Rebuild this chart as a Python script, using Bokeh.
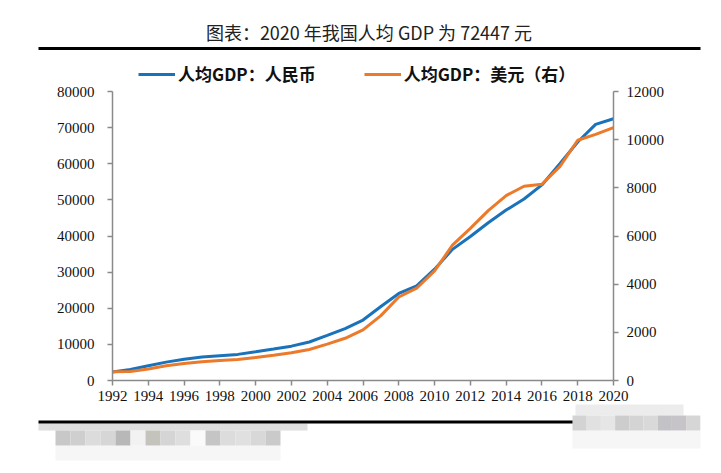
from bokeh.plotting import figure
from bokeh.models import (Range1d, LinearAxis, FixedTicker, Legend, LegendItem,
                          NumeralTickFormatter)
from bokeh.embed import file_html
from bokeh.resources import INLINE
from bokeh.core.properties import value

# ---------------- data ----------------
years = list(range(1992, 2021))
gdp_rmb = [2334, 3027, 4081, 5091, 5898, 6481, 6860, 7229, 7942, 8717,
           9506, 10666, 12487, 14368, 16738, 20494, 24100, 26180, 30808, 36302,
           39874, 43684, 47173, 50237, 54139, 60014, 66006, 70892, 72447]
gdp_usd = [366, 377, 474, 610, 709, 782, 829, 873, 959, 1053,
           1149, 1289, 1509, 1753, 2099, 2694, 3468, 3832, 4550, 5618,
           6317, 7051, 7679, 8067, 8148, 8879, 9977, 10217, 10500]
left_ticks = [0, 10000, 20000, 30000, 40000, 50000, 60000, 70000, 80000]
right_ticks = [0, 2000, 4000, 6000, 8000, 10000, 12000]
x_ticks = list(range(1992, 2021, 2))
title_text = "图表：2020 年我国人均 GDP 为 72447 元"
series_names = ["人均GDP：人民币", "人均GDP：美元（右）"]
series_colors = ["#1a72bb", "#ec7a2a"]

# decorative blurred blocks (shades)
left_shades = ["#c8c8c8", "#cfcfcf", "#dcdcdc", "#d6d6d6", "#b8b8b8", "#f2f2f2", "#c4c4bd",
               "#d5d5d5", "#dedede", "#fafafa", "#c5c5c5", "#dcdcdc", "#e0e0e0", "#d8d8d8", "#cacaca"]
right_shades = ["#d3d3d3", "#e1e1e1", "#e6e6e6", "#cdcdcd", "#d4d4d4", "#d9d9d9", "#c3c2c6", "#c6c4c8", "#d6d6d6"]

CJK = "Noto Sans CJK SC"
SERIF = "Liberation Serif"

# ---------------- canvas geometry ----------------
W, H = 713, 465
X0, X1 = 1992, 2020          # data extent of the x axis
Y0, Y1 = 0, 80000            # data extent of the left axis
U1 = 12000                   # top of the right axis
PX_L, PX_R, PX_T, PX_B = 112, 613, 91, 380   # plot-area edges in pixels

sx = (X1 - X0) / (PX_R - PX_L)
sy = (Y1 - Y0) / (PX_B - PX_T)
x_start, x_end = X0 - PX_L * sx, X1 + (W - PX_R) * sx
y_start, y_end = Y0 - (H - PX_B) * sy, Y1 + PX_T * sy
ratio = U1 / Y1


def px2x(px):
    return x_start + px * sx


def px2y(py):
    return y_end - py * sy


p = figure(width=W, height=H,
           x_range=Range1d(x_start, x_end), y_range=Range1d(y_start, y_end),
           x_axis_type=None, y_axis_type=None,
           output_backend="svg", toolbar_location=None, min_border=0)
p.outline_line_color = None
p.grid.visible = False
p.extra_y_ranges = {"usd": Range1d(y_start * ratio, y_end * ratio)}

r1 = p.line(years, gdp_rmb, line_color=series_colors[0], line_width=3)
r2 = p.line(years, gdp_usd, y_range_name="usd", line_color=series_colors[1], line_width=3)

axis_color = "#8a8a8a"


def style_axis(ax, standoff):
    ax.axis_line_color = axis_color
    ax.axis_line_width = 1.5
    ax.major_tick_line_color = axis_color
    ax.major_tick_line_width = 1.5
    ax.major_tick_out = 5
    ax.major_tick_in = 0
    ax.minor_tick_line_color = None
    ax.major_label_text_font = SERIF
    ax.major_label_text_font_size = "15px"
    ax.major_label_text_color = "#111111"
    ax.major_label_standoff = standoff


xa = LinearAxis(ticker=FixedTicker(ticks=x_ticks), fixed_location=Y0, bounds=(X0, X1))
style_axis(xa, 5)
p.add_layout(xa, "below")

ya = LinearAxis(ticker=FixedTicker(ticks=left_ticks), formatter=NumeralTickFormatter(format="0"),
                fixed_location=X0, bounds=(Y0, Y1))
style_axis(ya, 13)
p.add_layout(ya, "left")

ra = LinearAxis(y_range_name="usd", ticker=FixedTicker(ticks=right_ticks),
                formatter=NumeralTickFormatter(format="0"), fixed_location=X1, bounds=(0, U1))
style_axis(ra, 8)
p.add_layout(ra, "right")

legend = Legend(items=[LegendItem(label=series_names[0], renderers=[r1]),
                       LegendItem(label=series_names[1], renderers=[r2])],
                location=(138, H - 86), orientation="horizontal")
legend.background_fill_alpha = 0
legend.border_line_color = None
legend.padding = 0
legend.margin = 0
legend.spacing = 48
legend.glyph_width = 37
legend.glyph_height = 20
legend.label_height = 20
legend.label_standoff = 3
legend.label_text_font = CJK
legend.label_text_font_style = "bold"
legend.label_text_font_size = "17px"
legend.label_text_color = "#111111"
p.add_layout(legend)

# ---------------- title, rules and blurred blocks ----------------
p.text(x=[px2x(368.5)], y=[px2y(31)], text=[title_text], text_font=value(CJK),
       text_font_size="18px", text_align="center", text_baseline="middle", text_color="#222222")


def boxes(l, r, t, b, colors):
    p.quad(left=[px2x(v) for v in l], right=[px2x(v) for v in r],
           top=[px2y(v) for v in t], bottom=[px2y(v) for v in b],
           fill_color=colors, line_color=None)


# top rule
boxes([38], [700], [46.5], [49.5], ["black"])
# bottom-left blurred area
boxes([38], [307], [423], [430], ["#dedede"])
boxes([55], [280], [445], [460], ["#f6f6f6"])
n = len(left_shades)
boxes([55 + 15 * i for i in range(n)], [70 + 15 * i for i in range(n)], [430] * n, [445] * n, left_shades)
# bottom-right blurred area
boxes([575], [683], [404], [415], ["#ececec"])
boxes([572], [700], [430], [448], ["#f6f6f6"])
m = len(right_shades)
boxes([572 + 14.2 * i for i in range(m)], [572 + 14.2 * (i + 1) for i in range(m)], [415] * m, [430] * m, right_shades)
# bottom rule
boxes([38], [572], [420], [423], ["black"])

open("out.html", "w").write(file_html(p, INLINE))
